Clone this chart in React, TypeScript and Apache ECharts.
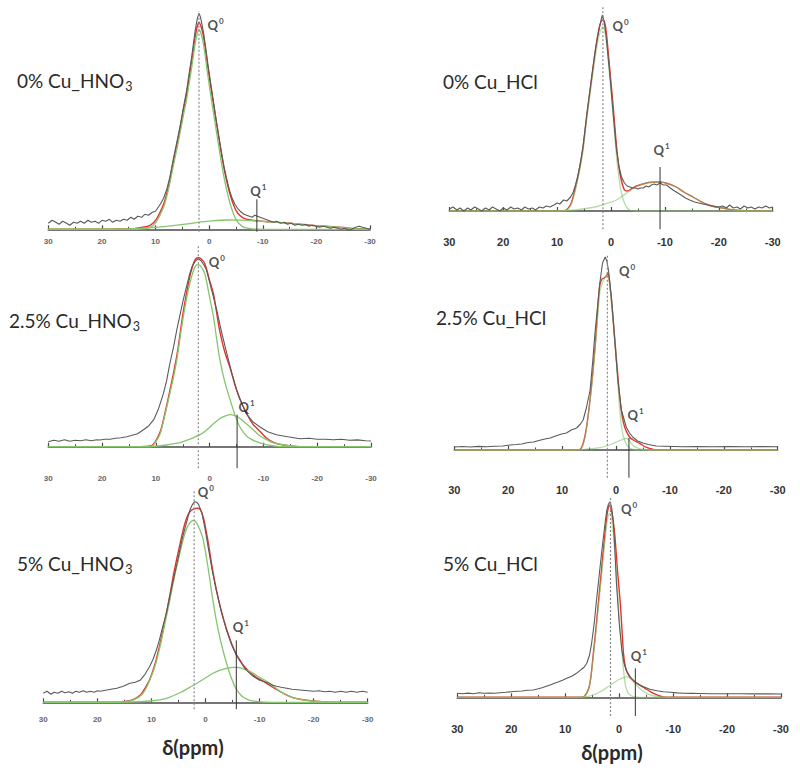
import React, { useEffect, useRef } from 'react';
import * as echarts from 'echarts';

type Pt = [number, number];

// ---------- data (chemical shift ppm, intensity above baseline) ----------
const p1Exp: Pt[] = [[30,6],[29.3,9],[28.6,7],[28,5],[27.3,8],[26.6,6],[26,4],[25.3,7],[24.6,6],[24,8],[23.3,6],[22.6,9],[22,7],[21.3,8],[20.6,6],[20,9],[19.3,8],[18.6,10],[18,7],[17.3,9],[16.6,8],[16,10],[15.3,9],[14.6,12],[14,10],[13.3,13],[12.6,12],[12,15],[11.3,14],[10.6,17],[10,18],[9.5,22],[9,26],[8.5,31],[7.9,40],[7.3,53],[6.7,70],[6,88],[5.4,104],[4.8,122],[4.2,139],[3.7,157],[3.25,173],[2.9,187],[2.6,199],[2.2,211],[1.9,216],[1.6,212],[1.3,204],[1.0,195],[0.6,180],[0.2,164],[-0.3,146],[-0.8,128],[-1.3,110],[-1.8,93],[-2.3,77],[-2.8,62],[-3.3,50],[-3.8,39],[-4.3,31],[-4.8,25],[-5.3,21],[-6,17],[-6.5,15],[-7,14],[-7.5,13],[-8,12],[-8.5,14],[-9,13],[-9.5,12],[-10,11],[-10.5,10],[-11,9],[-11.5,8],[-12,7],[-12.6,8],[-13.3,6],[-14,7],[-14.6,5],[-15.3,6],[-16,4],[-16.6,5],[-17.3,4],[-18,5],[-18.6,3],[-19.3,4],[-20,3],[-20.6,2],[-21.3,3],[-22,2],[-22.6,1],[-23.3,2],[-24,1],[-24.6,0],[-25.3,1],[-26,-1],[-26.6,0],[-27.3,2],[-28,3],[-28.6,2],[-29.3,1],[-30,0]];
const p1Fit: Pt[] = [[30,0],[20,0.1],[17,0.3],[14,0.6],[12.9,1.5],[11,4],[9.8,10.5],[8.5,25],[7.9,36],[7.3,50],[6.7,67],[6,85],[5.4,101],[4.8,119],[4.2,135],[3.7,153],[3.25,168],[2.9,181],[2.6,193],[2.2,203],[1.9,207],[1.6,204],[1.2,196.5],[0.8,184],[0.4,168],[0,153],[-0.5,135.5],[-1,118.6],[-1.5,102],[-2,85],[-2.5,69],[-3,55],[-3.5,43],[-4,33],[-4.5,25],[-5,19],[-5.7,14],[-6.5,11],[-8,9],[-10,8],[-12,7.2],[-14,6.6],[-17,5],[-20,3.6],[-23.5,2.4],[-26,1.2],[-28,0.5],[-30,0.3]];
const p1Q0: Pt[] = [[30,0],[14,0],[12.9,0.3],[11,2],[9.8,8],[8.5,22],[7.9,33],[7.3,47],[6.7,63],[6,81],[5.4,97],[4.8,114],[4.2,130],[3.7,147],[3.25,162],[2.9,175],[2.6,186],[2.2,196],[1.9,200],[1.6,197],[1.2,189],[0.8,176],[0.4,160],[0,145],[-0.5,127],[-1,110],[-1.5,93],[-2,76],[-2.5,60],[-3,46],[-3.5,34],[-4,24],[-4.5,16],[-5,10],[-5.7,5],[-6.5,2],[-8,0.5],[-10,0],[-30,0]];
const p1Q1: Pt[] = [[30,0.3],[26,0.2],[20,0.1],[17.4,0.2],[14,0.6],[11.2,1.6],[8,3],[4,5.5],[2,7],[0,8.2],[-3.3,9.3],[-6,9.1],[-9,8.3],[-12,7.2],[-14.2,6.5],[-17,5],[-20,3.6],[-23.5,2.4],[-26,1.2],[-28,0.5],[-30,0.3]];

const p2Exp: Pt[] = [[30,2],[29.3,4],[28.6,1],[28,3],[27.3,0],[26.6,3],[26,1],[25.3,4],[24.6,2],[24,0],[23.3,3],[22.6,1],[22,4],[21.3,2],[20.6,0],[20,3],[19.3,1],[18.6,4],[18,2],[17.3,3],[16.6,1],[16,4],[15.3,2],[14.6,3],[14,1],[13.3,4],[12.6,3],[12,5],[11.3,4],[10.6,6],[10,8],[9.5,7],[8.8,11],[8.2,10],[7.5,14],[7,19],[6.6,26],[6.2,34],[5.75,46],[5.2,64],[4.5,96],[3.9,121],[3.4,141],[3,157],[2.6,171],[2.2,182],[1.8,192],[1.6,196],[1.3,190],[0.9,175],[0.5,152],[0.1,130],[-0.45,94],[-1,62],[-1.5,44],[-1.95,34],[-2.5,28],[-3,25],[-3.5,24],[-4,23],[-4.5,23],[-5,22],[-5.5,23],[-6,23],[-6.5,25],[-7,24],[-7.5,26],[-8,27],[-8.5,26],[-9.1,28],[-9.7,26],[-10.3,26],[-11,23],[-11.5,21],[-12.1,19],[-13,16],[-13.8,13],[-14.6,11],[-15.5,9],[-16.3,8],[-17,7],[-18,6],[-19,5],[-20,4],[-20.7,5],[-21.4,3],[-22,6],[-22.7,3],[-23.4,4],[-24,2],[-24.7,5],[-25.4,3],[-26,4],[-26.7,2],[-27.4,4],[-28,3],[-28.7,5],[-29.4,3],[-30,4]];
const p2Fit: Pt[] = [[30,0],[10,0],[8.5,0.5],[7.5,6.5],[7,14.5],[6.4,28],[5.75,45],[5.2,63],[4.5,95],[3.9,120],[3.4,141],[3,157],[2.6,171],[2.2,183],[1.8,190],[1.5,191],[1.2,189],[0.9,180],[0.5,158],[0.1,134],[-0.43,103],[-0.9,72],[-1.4,46],[-1.95,30],[-2.5,21],[-3,20],[-3.5,21],[-4,23],[-5.3,26],[-7,28.5],[-8.5,29],[-9.1,29],[-10.5,27.5],[-12.1,24],[-13.5,19],[-15.2,14],[-16.5,10],[-17.6,7],[-19,4.5],[-20.7,3],[-22,1.5],[-23.8,0.5],[-26,0],[-30,0]];
const p2Q0: Pt[] = [[30,0],[10,0],[8.5,0.2],[7.5,5],[7,13],[6.4,26],[5.75,42],[5.2,60],[4.5,92],[3.9,116],[3.4,136],[3,151],[2.6,165],[2.2,176],[1.8,182],[1.5,184],[1.2,181],[0.9,171],[0.5,150],[0.1,125],[-0.43,94],[-0.9,62],[-1.4,36],[-1.95,18],[-2.5,8],[-3,3],[-3.5,1],[-4.5,0],[-30,0]];
const p2Q1: Pt[] = [[30,0],[12,0],[8,0.5],[6.6,1],[4,3],[2.2,5],[0,9],[-1,11],[-2,14.5],[-2.9,18],[-4,22],[-5.3,26],[-7,28.5],[-8.5,29],[-9.1,29],[-10.5,27.5],[-12.1,24],[-13.5,19],[-15.2,14],[-16.5,10],[-17.6,7],[-19,4.5],[-20.7,3],[-22,1.5],[-23.8,0.5],[-26,0],[-30,0]];

const p3Exp: Pt[] = [[30,5],[29,6.5],[28,5.5],[27,7],[26,5.5],[25,6.5],[24,6],[23,7],[22,6],[21,7],[20.4,6.7],[19.5,7.5],[18.5,7.5],[17.5,8.5],[16.5,9],[15.4,10],[14.4,11.5],[13.4,13],[12.3,17],[11.3,21],[10.4,27],[9.5,38],[8.6,53],[8,66],[7.4,83],[6.7,100],[6.1,117],[5.5,132],[4.9,147],[4.3,160],[3.7,173],[3.2,181],[2.6,186],[2.1,188],[1.6,186],[1.1,182],[0.6,177],[-0.3,158],[-1.3,137],[-2.2,115],[-3.2,93],[-4.1,74],[-5,57],[-5.9,44],[-6.8,33],[-8,25],[-9.3,20],[-10.8,15],[-12.4,12],[-14.5,10],[-16.8,8],[-18.5,8.5],[-20,7.5],[-21.5,7.5],[-23,7],[-24.5,7.5],[-26,6.5],[-27.5,6.8],[-29,6],[-30,5.7]];
const p3Fit: Pt[] = [[30,0],[14,0],[12,0.3],[10.8,1],[9.2,15],[8.3,34],[7.4,56],[6.1,91],[4.9,135],[3.7,170],[3.2,180],[2.7,187],[2.2,189],[1.6,188],[0.9,183],[0.1,168],[-0.7,153],[-1.3,134],[-1.9,115],[-2.8,95],[-3.8,79],[-4.7,62],[-5.6,48],[-7,32],[-8.1,22],[-8.7,19],[-10.5,9],[-12,4],[-13.7,1.7],[-16,0.3],[-18,0],[-30,0]];
const p3Q0: Pt[] = [[30,0],[12,0],[10.8,0.3],[10,5],[9.2,13],[8.3,32],[7.4,53],[6.7,70],[6.1,87],[5.5,109],[4.9,130],[4.3,148],[3.7,163],[3.2,173],[2.7,180],[2.2,182],[1.6,180],[0.9,173],[0.1,152],[-0.7,130],[-1.3,108],[-1.9,87],[-2.8,65],[-3.8,47],[-4.7,32],[-5.6,20],[-7,10],[-8.7,5],[-10.5,2],[-12,0.8],[-13.7,0],[-30,0]];
const p3Q1: Pt[] = [[30,0],[12,0],[8,1.7],[4.9,5],[1.8,12],[0.5,17],[-0.7,23],[-1.6,27],[-2.6,30],[-3.8,32],[-4.7,31],[-5.6,28.4],[-6.8,23],[-8.1,17],[-9.3,11],[-10.6,7],[-12,3.5],[-13.7,1.7],[-16,0.3],[-18,0],[-30,0]];

const p4Exp: Pt[] = [[30,3],[28.5,3.5],[27,3],[25.5,3.6],[24,3.2],[22.5,3.8],[21,4],[19.7,5],[18.5,5.5],[17.5,6],[16.3,7.5],[15.3,8],[14.3,9.5],[13.2,11],[12.2,12],[11.2,14],[10.1,16],[9.2,17],[8.3,20],[7.3,22],[6.6,26],[6.1,30],[5.5,42],[4.8,60],[4.3,90],[3.9,117],[3.4,145],[3,167],[2.5,187],[2,193],[1.7,189],[1.4,180],[0.8,150],[0.2,107],[-0.4,67],[-1,40],[-1.9,23],[-2.5,17],[-3.1,13],[-4,9],[-5,7],[-6,5.5],[-7.5,4],[-9,3.8],[-12.4,3.3],[-15,3.5],[-18,3.2],[-21,3.5],[-24,3.2],[-27,3.4],[-30,3.3]];
const p4Fit: Pt[] = [[30,0],[8,0],[6.7,0.5],[5.75,14],[4.8,51],[3.9,102],[3.4,140],[3,165],[2.6,171],[2.2,172],[1.8,174],[1.5,177],[1.2,168],[0.56,133],[-0.35,73],[-0.97,40],[-1.6,23],[-2.5,13],[-3.2,10],[-4.4,6.7],[-5.3,3.5],[-6.2,1.7],[-7.5,0],[-30,0]];
const p4Q0: Pt[] = [[30,0],[8,0],[6.7,0.3],[5.75,13],[4.8,50],[4.3,75],[3.9,100],[3.4,132],[3,158],[2.6,166],[2.2,171],[1.6,175],[1.2,168],[0.9,150],[0.5,126],[0.1,100],[-0.3,70],[-0.7,40],[-1.05,22],[-1.4,13],[-2,5],[-2.5,2],[-3.3,0.5],[-4.4,0],[-30,0]];
const p4Q1: Pt[] = [[30,0],[8,0],[6.7,0.2],[3,2.3],[1.5,4.5],[0.5,6.7],[-0.3,8.5],[-1,10],[-1.9,11.7],[-2.4,10],[-3.1,5],[-4,2],[-5,0.7],[-7.5,0],[-30,0]];

const p5Exp: Pt[] = [[30,9],[29.3,11],[28.6,8],[28,10],[27.3,9],[26.6,11],[26,9.5],[25.3,10.5],[24.6,9],[24,11],[23.3,10],[22.6,11.5],[22,10],[21.3,11],[20.6,10],[20,11.5],[19.5,11],[18.5,12],[17.5,13],[16.4,14],[15.2,16],[14,19],[13,20],[12.1,22],[11.2,28],[10.3,36],[9.7,43],[9.1,52],[8.5,63],[7.9,76],[7.2,90],[6.6,106],[6,121],[5.4,136],[4.8,151],[4.2,166],[3.5,180],[2.9,192],[2.4,198],[2,200.6],[1.6,200],[1.3,198],[0.7,190],[0.1,174],[-0.5,155],[-1.2,133],[-2,112],[-2.9,91],[-3.9,72],[-4.8,58],[-5.7,47],[-6.4,41],[-7,36],[-7.6,32],[-8.2,29],[-8.8,26],[-9.4,24],[-10,22],[-10.6,21],[-11.2,20],[-11.8,19],[-12.5,17],[-13.1,16],[-14,15],[-15,14],[-16,13],[-17,12.5],[-18,12],[-19,11.5],[-20,11],[-21,11.5],[-22,10.5],[-23,11],[-24,10],[-25,11],[-26,10],[-27,11],[-28,10],[-29,11],[-30,10]];
const p5Fit: Pt[] = [[30,0],[16,0],[14.6,1],[13.3,3],[12.1,7],[11.2,14],[10.3,23],[9.3,39],[8.4,59],[7.5,82],[6.6,107],[5.8,131],[5.05,150],[4.4,166],[3.8,179],[3.2,188],[2.6,192],[2.1,193.5],[1.6,194],[1,193],[0.4,185],[-0.5,160],[-1.2,136],[-2,113],[-2.9,92],[-3.9,73],[-4.8,59],[-5.7,48],[-6.4,42],[-7,37],[-8.2,30],[-9.4,25],[-10.4,22],[-11.3,19],[-12.8,14],[-14.4,9],[-16,5],[-17.5,3],[-19.5,1.5],[-21.8,0.6],[-24,0],[-30,0]];
const p5Q0: Pt[] = [[30,0],[16,0],[14.6,0.6],[13.3,2.5],[12.1,6],[11.2,12],[10.3,22],[9.3,37],[8.4,56],[7.5,79],[6.6,102],[5.8,124],[5.05,142],[4.4,157],[3.8,169],[3.2,177],[2.6,181],[2.2,182],[1.6,179],[1,172],[0.4,162],[-0.5,134],[-1.2,108],[-2,82],[-2.9,59],[-3.9,39],[-4.8,24],[-5.7,13],[-6.4,8],[-7,5],[-8.2,2],[-10.1,0.5],[-12,0],[-30,0]];
const p5Q1: Pt[] = [[30,0],[17,0.1],[14,0.3],[10.3,1.3],[7.2,4],[4.2,11],[2.6,16],[1,21],[-0.2,25],[-1.4,29],[-2.6,32],[-3.9,34],[-5.2,35],[-5.7,35],[-7,33.5],[-8.2,31],[-9.7,26],[-11.3,21],[-12.8,15],[-14.4,9],[-16,5],[-17.5,3],[-19.5,1.5],[-21.8,0.6],[-24,0],[-30,0]];

const p6Exp: Pt[] = [[30,4],[29,3.5],[28,4.2],[27,3.6],[26,4.5],[25,4],[24,4.3],[23,4.1],[22.1,4.6],[21,5],[20,5.5],[19,6],[18,6.3],[17,7],[15.9,7.3],[15,8.5],[14.3,9.5],[13.5,11],[12.8,12.3],[12,14],[11.2,15.5],[10.5,17],[9.7,19],[8.8,21],[7.9,24],[7,28],[6.5,30],[6,34],[5.5,42],[5.1,54],[4.6,75],[4.2,97],[3.7,122],[3.2,147],[2.7,170],[2.3,187],[2,193],[1.7,195.6],[1.4,190],[1.1,177],[0.8,148],[0.5,114],[0,75],[-0.5,47],[-0.9,34],[-1.4,26],[-2,21],[-2.6,17],[-3.5,13],[-4.5,10.6],[-5.7,8],[-7,6.6],[-8.2,5.6],[-9.5,5],[-10.7,4.4],[-11.9,4],[-13.5,3.9],[-15,3.8],[-17,3.6],[-20,3.5],[-22.5,3.6],[-25,3.4],[-27.5,3.5],[-30,3.3]];
const p6Fit: Pt[] = [[30,0],[8,0],[6.65,0.5],[5.7,8],[5.25,20],[4.8,43],[4.35,66],[3.9,92],[3.4,120],[2.9,149],[2.5,170],[2.2,184],[1.8,192],[1.4,186],[1.1,176],[0.8,162],[0.3,126],[-0.2,95],[-0.5,70],[-0.8,44],[-1.1,32],[-1.4,26],[-2,20],[-2.6,17],[-3.2,14.5],[-3.9,12],[-4.8,9],[-5.7,6],[-6.6,3.5],[-7.5,1.3],[-8.8,0],[-30,0]];
const p6Q0: Pt[] = [[30,0],[8,0],[6.65,0.2],[6.2,2],[5.7,7.3],[5.25,20],[4.8,40.6],[4.35,63],[3.9,87],[3.4,114],[2.9,141],[2.5,163],[2.2,177],[1.9,183],[1.6,184],[1.2,170],[0.8,147],[0.5,123],[0.2,97],[-0.15,70],[-0.5,47],[-0.8,28],[-1.1,14],[-1.5,6],[-2,2.3],[-2.8,0.5],[-3.9,0],[-30,0]];
const p6Q1: Pt[] = [[30,0],[8,0],[6,0.6],[4.5,3],[3.5,5.6],[2.2,10],[1.1,14],[0,18],[-0.8,19.6],[-1.4,20.6],[-2,19],[-2.6,15.5],[-3.2,12],[-4.1,7.5],[-5.1,4],[-6.2,1.8],[-7.5,0.6],[-10,0],[-30,0]];

// peak positions (ppm) and heights of the marker lines
const q0Positions = [1.9, 1.5, 2.1, 1.6, 2.1, 1.6];
const q1Positions = [-8.9, -9.1, -5.1, -2.4, -5.7, -3.0];
const q0LineTops = [218, 204, 201, 195, 212, 200];
const q1LineTops = [30, 44, 32, 12, 62, 29];

const sampleNames = ['0% Cu_HNO', '0% Cu_HCl', '2.5% Cu_HNO', '2.5% Cu_HCl', '5% Cu_HNO', '5% Cu_HCl'];
const sampleSubs = ['3', '', '3', '', '3', ''];
const xAxisName = 'δ(ppm)';

// ---------- layout ----------
const layouts = [
  { left: 48.3, width: 321.7, top: 0, axisY: 231.7, baseY: 229.3, big: false, q0Off: [8, 14], q1Off: [-7, -8], title: [17, 80] },
  { left: 449.3, width: 323.4, top: 0, axisY: 229.3, baseY: 211, big: true, q0Off: [9, 19], q1Off: [-7, -17], title: [443, 81] },
  { left: 48.3, width: 322.7, top: 240, axisY: 468.3, baseY: 446.7, big: false, q0Off: [10, 16], q1Off: [1, -8], title: [9, 320] },
  { left: 454.3, width: 323.4, top: 240, axisY: 477.7, baseY: 450, big: true, q0Off: [11, 16], q1Off: [-2, -23], title: [436, 317] },
  { left: 43.3, width: 324.4, top: 480, axisY: 709.3, baseY: 702.3, big: false, q0Off: [3, 2], q1Off: [-4, -13], title: [17, 563] },
  { left: 457.3, width: 323.7, top: 480, axisY: 716, baseY: 697.3, big: true, q0Off: [10, 12], q1Off: [-5, -12], title: [443, 563] },
];

const COLORS = { exp: '#5a5a5a', fit: '#e5322a', comp: '#86c46e', q0: '#8a8a8a', q1: '#333333', axis: '#4a4a4a' };

const panels = [
  { exp: p1Exp, fit: p1Fit, q0: p1Q0, q1: p1Q1 },
  { exp: p2Exp, fit: p2Fit, q0: p2Q0, q1: p2Q1 },
  { exp: p3Exp, fit: p3Fit, q0: p3Q0, q1: p3Q1 },
  { exp: p4Exp, fit: p4Fit, q0: p4Q0, q1: p4Q1 },
  { exp: p5Exp, fit: p5Fit, q0: p5Q0, q1: p5Q1 },
  { exp: p6Exp, fit: p6Fit, q0: p6Q0, q1: p6Q1 },
];

const qRich = {
  q: { fontSize: 13, fontWeight: 'bold', color: '#222', fontFamily: 'Lato' },
  s: { fontSize: 8, fontWeight: 'bold', color: '#222', fontFamily: 'Lato', padding: [0, 0, 8, 1] },
};

function buildOption() {
  const grid: any[] = [];
  const xAxis: any[] = [];
  const yAxis: any[] = [];
  const series: any[] = [];
  const graphic: any[] = [];

  layouts.forEach((L, i) => {
    grid.push({ left: L.left, top: L.top, width: L.width, height: L.axisY - L.top });
    const yMin = L.baseY - L.axisY;
    xAxis.push({
      type: 'value', gridIndex: i, inverse: true, min: -30, max: 30, interval: 10,
      axisLine: { show: true, lineStyle: { color: COLORS.axis, width: 1.6 } },
      axisTick: { show: true, inside: true, length: 4, lineStyle: { color: COLORS.axis, width: 1.2 } },
      minorTick: { show: true, splitNumber: 2, length: 2.5, lineStyle: { color: COLORS.axis, width: 1 } },
      splitLine: { show: false },
      axisLabel: L.big
        ? { fontSize: 11, fontWeight: 'bold', color: '#333', margin: 7, fontFamily: 'Liberation Sans' }
        : { fontSize: 8, fontWeight: 'bold', color: '#666', margin: 6, fontFamily: 'Liberation Sans' },
    });
    yAxis.push({ type: 'value', gridIndex: i, min: yMin, max: L.baseY - L.top, show: false, splitLine: { show: false } });

    const P = panels[i];
    const compOpacity = L.big ? 0.6 : 1;
    const common = { xAxisIndex: i, yAxisIndex: i, showSymbol: false, silent: true, animation: false };
    series.push({ ...common, type: 'line', data: P.fit, smooth: 0.3, lineStyle: { color: COLORS.fit, width: 1.4 }, z: 2 });
    series.push({ ...common, type: 'line', data: P.q0, smooth: 0.3, lineStyle: { color: COLORS.comp, width: 1.3, opacity: compOpacity }, z: 3 });
    series.push({ ...common, type: 'line', data: P.q1, smooth: 0.3, lineStyle: { color: COLORS.comp, width: 1.3, opacity: compOpacity }, z: 3 });
    series.push({ ...common, type: 'line', data: P.exp, lineStyle: { color: COLORS.exp, width: 1.1 }, z: 4 });
    // Q0 marker line
    series.push({ ...common, type: 'line', data: [[q0Positions[i], yMin], [q0Positions[i], q0LineTops[i]]],
      lineStyle: { color: COLORS.q0, width: 1.2, type: [2, 2] }, z: 5 });
    // Q1 marker line
    series.push({ ...common, type: 'line', data: [[q1Positions[i], yMin], [q1Positions[i], q1LineTops[i]]],
      lineStyle: { color: COLORS.q1, width: 1 }, z: 5 });
    // labels
    series.push({ ...common, type: 'scatter', symbolSize: 1, itemStyle: { color: 'rgba(0,0,0,0)' },
      data: [[q0Positions[i], q0LineTops[i]]],
      label: { show: true, position: 'right', distance: 0, offset: L.q0Off, formatter: '{q|Q}{s|0}', rich: qRich }, z: 6 });
    series.push({ ...common, type: 'scatter', symbolSize: 1, itemStyle: { color: 'rgba(0,0,0,0)' },
      data: [[q1Positions[i], q1LineTops[i]]],
      label: { show: true, position: 'right', distance: 0, offset: L.q1Off, formatter: '{q|Q}{s|1}', rich: qRich }, z: 6 });

    const sub = sampleSubs[i];
    graphic.push({
      type: 'text', x: L.title[0], y: L.title[1],
      style: {
        text: sub ? `{m|${sampleNames[i]}}{b|${sub}}` : `{m|${sampleNames[i]}}`,
        verticalAlign: 'middle',
        rich: {
          m: { fontSize: 19, fontFamily: 'Lato', fill: '#2a2a2a' },
          b: { fontSize: 12.5, fontFamily: 'Lato', fill: '#2a2a2a', padding: [12, 0, 0, 1] },
        },
      },
    });
  });

  graphic.push({ type: 'text', x: 193, y: 747, style: { text: xAxisName, fontSize: 20, fontWeight: 'bold', fontFamily: 'Lato', fill: '#2a2a2a', align: 'center', verticalAlign: 'middle' } });
  graphic.push({ type: 'text', x: 612, y: 752, style: { text: xAxisName, fontSize: 20, fontWeight: 'bold', fontFamily: 'Lato', fill: '#2a2a2a', align: 'center', verticalAlign: 'middle' } });

  return { animation: false, backgroundColor: '#ffffff', grid, xAxis, yAxis, series, graphic };
}

export default function App() {
  const ref = useRef<HTMLDivElement>(null);
  useEffect(() => {
    document.body.style.margin = '0';
    if (!ref.current) return;
    const chart = echarts.init(ref.current, null, { renderer: 'svg' });
    chart.setOption(buildOption() as any);
    return () => chart.dispose();
  }, []);
  return <div ref={ref} style={{ width: 800, height: 770 }} />;
}
